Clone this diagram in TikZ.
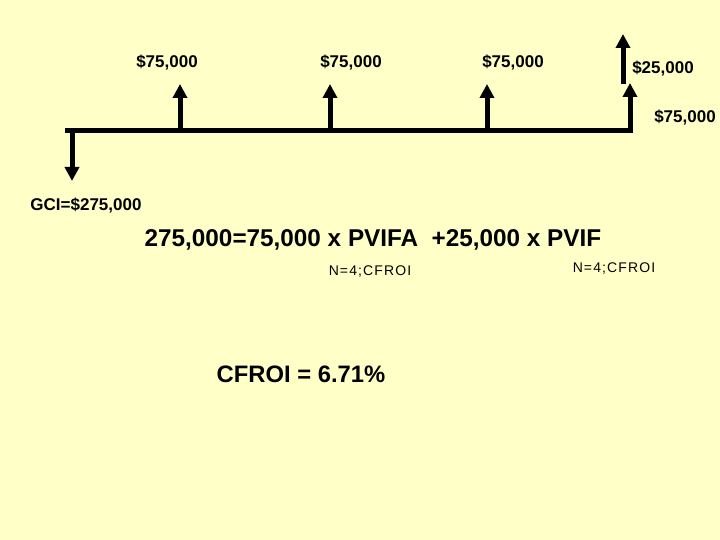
\documentclass[tikz,border=0pt]{standalone}
\usepackage{fontspec}
\setmainfont{Liberation Sans}
\usetikzlibrary{arrows.meta}
\definecolor{paper}{HTML}{FFFFC8}

\begin{document}
\begin{tikzpicture}[x=1pt, y=-1pt,
    axis/.style={line width=5pt, black},
    flow/.style={line width=5pt, black, -{Triangle[width=14pt, length=14pt]}},
    amount/.style={inner sep=0pt, font=\fontsize{17}{20}\selectfont\bfseries},
    formula/.style={inner sep=0pt, font=\fontsize{24.3}{28}\selectfont\bfseries},
    subnote/.style={inner sep=0pt, font=\fontsize{14}{16}\selectfont\addfontfeature{LetterSpace=8}}]
\fill[paper] (0,0) rectangle (720,540);
\useasboundingbox (0,0) rectangle (720,540);

% time line
\coordinate (t0) at (65,131);
\coordinate (t4) at (633,131);
\draw[axis] (t0) -- (t4);

% cash flows
\coordinate (y0) at (72,131);
\coordinate (y0tip) at (72,181);
\coordinate (y1) at (180,131);
\coordinate (y1tip) at (180,84);
\coordinate (y2) at (330,131);
\coordinate (y2tip) at (330,84);
\coordinate (y3) at (487,131);
\coordinate (y3tip) at (487,84);
\coordinate (y4) at (630,131);
\coordinate (y4tip) at (630,83);
\coordinate (extra) at (623,84);
\coordinate (extratip) at (623,34);

\draw[flow] (y0) -- (y0tip);
\draw[flow] (y1) -- (y1tip);
\draw[flow] (y2) -- (y2tip);
\draw[flow] (y3) -- (y3tip);
\draw[flow] (y4) -- (y4tip);
\draw[flow] (extra) -- (extratip);

\node[amount] (cf1) at (167,63) {\$75,000};
\node[amount] (cf2) at (351,63) {\$75,000};
\node[amount] (cf3) at (513,63) {\$75,000};
\node[amount] (terminal) at (663,69) {\$25,000};
\node[amount] (cf4) at (685,118) {\$75,000};
\node[amount] (gci) at (86,206) {GCI=\$275,000};

% valuation
\node[formula] (eq) at (373,240) {275,000=75,000 x PVIFA\ \ +25,000 x PVIF};
\node[subnote] (n1) at (370,272) {N=4;CFROI};
\node[subnote] (n2) at (614,269) {N=4;CFROI};
\node[formula, font=\fontsize{23.8}{27}\selectfont\bfseries] (result) at (301,374) {CFROI = 6.71\%};

\end{tikzpicture}
\end{document}
